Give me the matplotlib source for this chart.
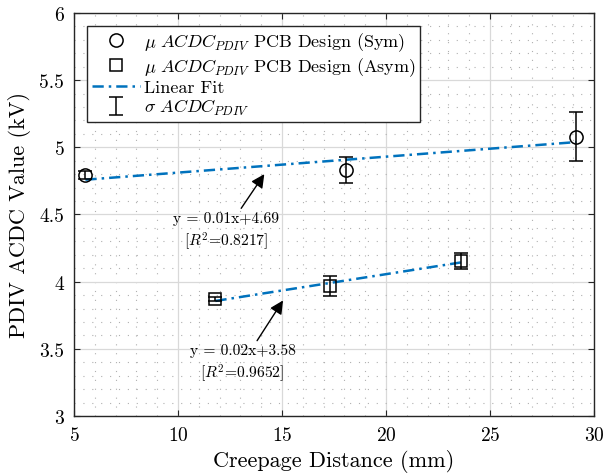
import matplotlib
matplotlib.use('Agg')
import matplotlib.pyplot as plt
import numpy as np
from matplotlib.ticker import MultipleLocator

plt.rcParams['font.family'] = 'serif'
plt.rcParams['font.serif'] = ['cmr10', 'DejaVu Serif']
plt.rcParams['mathtext.fontset'] = 'cm'
plt.rcParams['axes.unicode_minus'] = False
plt.rcParams['axes.formatter.use_mathtext'] = True

# data
sym_x = [5.55, 18.1, 29.15]
sym_y = [4.795, 4.83, 5.08]
sym_err = [0.03, 0.095, 0.18]

asym_x = [11.8, 17.33, 23.6]
asym_y = [3.87, 3.965, 4.155]
asym_err = [0.015, 0.075, 0.06]

fit_labels = ['y = 0.01x+4.69\n[$R^2$=0.8217]', 'y = 0.02x+3.58\n[$R^2$=0.9652]']

blue = '#0072BD'

fig = plt.figure(figsize=(6.05, 4.77), dpi=100)
ax = fig.add_axes([0.1223, 0.1258, 0.8595, 0.845])

# linear fits
for xs, ys in [(sym_x, sym_y), (asym_x, asym_y)]:
    p = np.polyfit(xs, ys, 1)
    xx = np.array([xs[0], xs[-1]])
    fit_line, = ax.plot(xx, np.polyval(p, xx), color=blue, ls=(0, (4.5, 2, 1, 2)), lw=1.8, zorder=3)

h_sym, = ax.plot(sym_x, sym_y, 'o', mfc='none', mec='k', ms=9.5, mew=1.1, ls='none', zorder=4)
h_asym, = ax.plot(asym_x, asym_y, 's', mfc='none', mec='k', ms=8, mew=1.1, ls='none', zorder=4)
h_err = ax.errorbar(sym_x, sym_y, yerr=sym_err, fmt='none', ecolor='k', elinewidth=1.1, capsize=5, capthick=1.1, zorder=4)
ax.errorbar(asym_x, asym_y, yerr=asym_err, fmt='none', ecolor='k', elinewidth=1.1, capsize=5, capthick=1.1, zorder=4)

# annotations
arrow = dict(arrowstyle='-|>', color='k', lw=1.0, mutation_scale=20, shrinkA=0, shrinkB=0)
ax.annotate(fit_labels[0], xy=(14.15, 4.80), xytext=(12.3, 4.525), ha='center', va='top',
            fontsize=11.2, linespacing=1.25, arrowprops=arrow)
ax.annotate(fit_labels[1], xy=(15.05, 3.86), xytext=(13.1, 3.54), ha='center', va='top',
            fontsize=11.2, linespacing=1.25, arrowprops=arrow)

ax.set_xlim(5, 30)
ax.set_ylim(3, 6)
ax.xaxis.set_major_locator(MultipleLocator(5))
ax.xaxis.set_minor_locator(MultipleLocator(1))
ax.yaxis.set_major_locator(MultipleLocator(0.5))
ax.yaxis.set_minor_locator(MultipleLocator(0.1))
ax.set_yticks(np.arange(3, 6.01, 0.5))
ax.set_yticklabels(['3', '3.5', '4', '4.5', '5', '5.5', '6'])
ax.grid(which='major', color='#d9d9d9', lw=0.9)
ax.grid(which='minor', color='#b0b0b0', ls=(0, (1, 7)), lw=0.8)
ax.set_axisbelow(True)
ax.tick_params(which='both', direction='in', top=True, right=True, labelsize=14, color='#262626')
ax.tick_params(which='minor', length=0)
ax.tick_params(which='major', length=4, pad=7)
for s in ax.spines.values():
    s.set_color('#262626')
    s.set_linewidth(1.0)

ax.set_xlabel('Creepage Distance (mm)', fontsize=16, labelpad=4)
ax.set_ylabel('PDIV ACDC Value (kV)', fontsize=16, labelpad=6)

leg = ax.legend([h_sym, h_asym, fit_line, h_err],
                [r'$\mu\ ACDC_{PDIV}$ PCB Design (Sym)', r'$\mu\ ACDC_{PDIV}$ PCB Design (Asym)',
                 'Linear Fit', r'$\sigma\ ACDC_{PDIV}$'],
                loc='upper left', bbox_to_anchor=(0.025, 0.967), fontsize=13, fancybox=False,
                framealpha=1, edgecolor='#262626', handlelength=2.7, handletextpad=0.2,
                borderpad=0.25, labelspacing=0.1, borderaxespad=0)
leg.get_frame().set_linewidth(1.0)

fig.savefig('out.png', dpi=100)
